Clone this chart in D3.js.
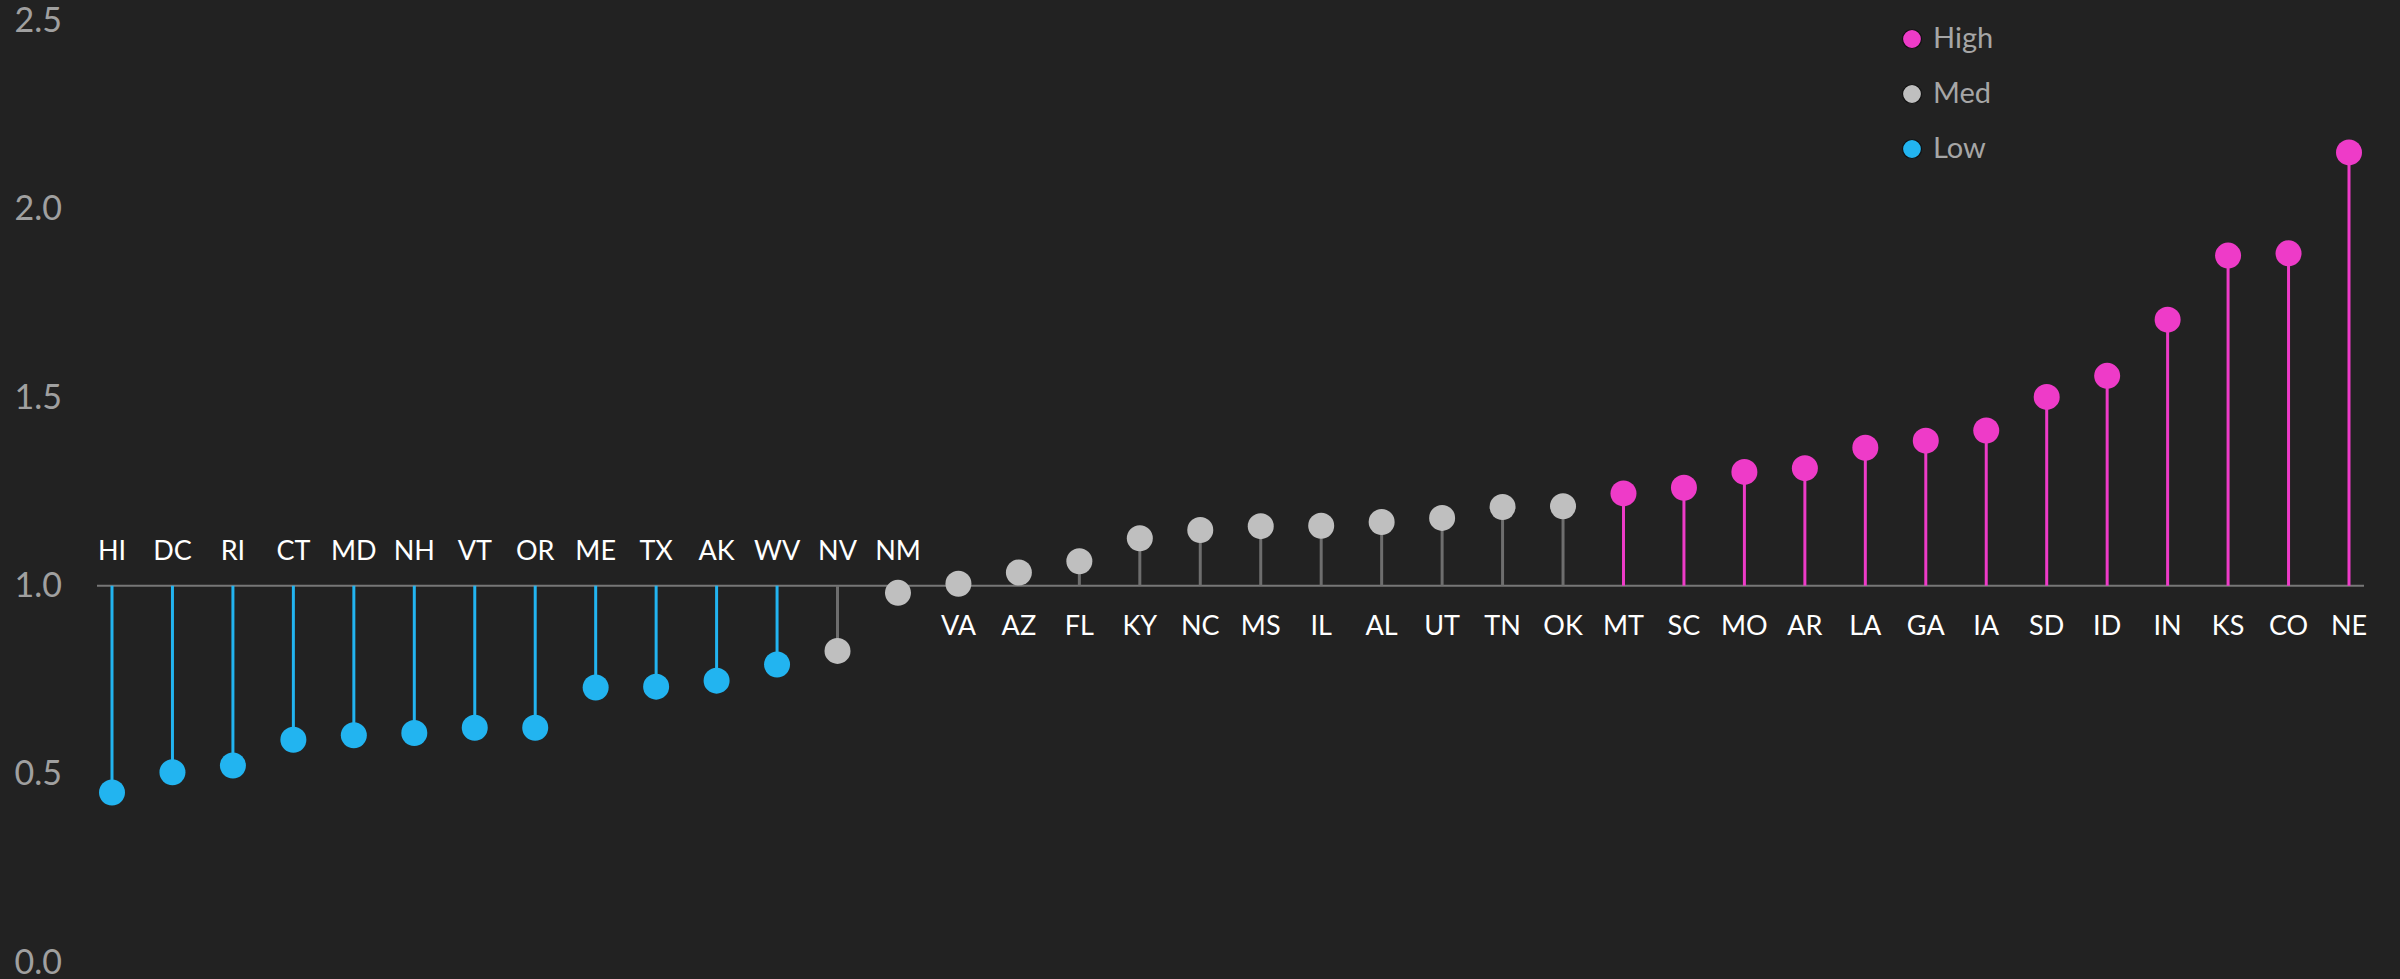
<!DOCTYPE html>
<html>
<head>
<meta charset="utf-8">
<script src="https://cdn.jsdelivr.net/npm/d3@7"></script>
<style>
  html, body { margin: 0; padding: 0; background: #222222; }
  svg { display: block; }
</style>
</head>
<body>
<svg id="chart" width="2400" height="979"></svg>
<script>
// States, ordered from lowest to highest ratio
const states = ["HI","DC","RI","CT","MD","NH","VT","OR","ME","TX","AK","WV","NV","NM",
  "VA","AZ","FL","KY","NC","MS","IL","AL","UT","TN","OK",
  "MT","SC","MO","AR","LA","GA","IA","SD","ID","IN","KS","CO","NE"];
const values = [0.451,0.505,0.523,0.591,0.603,0.609,0.623,0.623,0.730,0.732,0.748,0.791,0.827,0.981,
  1.005,1.035,1.065,1.126,1.148,1.158,1.159,1.169,1.180,1.209,1.211,
  1.245,1.260,1.302,1.312,1.366,1.385,1.412,1.501,1.557,1.706,1.876,1.882,2.150];
const levels = ["Low","Low","Low","Low","Low","Low","Low","Low","Low","Low","Low","Low","Med","Med",
  "Med","Med","Med","Med","Med","Med","Med","Med","Med","Med","Med",
  "High","High","High","High","High","High","High","High","High","High","High","High","High"];
const legendOrder = ["High","Med","Low"];
const yTicks = [0, 0.5, 1.0, 1.5, 2.0, 2.5];
const baselineValue = 1.0;

const dotColor = { High: "#ee3bc8", Med: "#bfbfbf", Low: "#22b4f0" };
const stemColor = { High: "#ee3bc8", Med: "#6e6e6e", Low: "#22b4f0" };

const rows = states.map((s, i) => ({ state: s, value: values[i], level: levels[i] }));

const svg = d3.select("#chart");
const font = "Lato, 'Open Sans', sans-serif";

const x = d3.scalePoint().domain(states).range([112, 2349]);
const y = d3.scaleLinear().domain([0, 2.5]).range([962.5, 20.5]);
const y0 = y(baselineValue);

// value axis: labels only
const yAxis = svg.append("g")
  .attr("transform", "translate(62,0)")
  .call(d3.axisLeft(y).tickValues(yTicks).tickSize(0).tickPadding(0).tickFormat(d3.format(".1f")));
yAxis.select(".domain").remove();
yAxis.selectAll("text")
  .attr("fill", "#a0a0a0")
  .style("font-family", font)
  .style("font-size", "34px");

// reference line at 1.0
svg.append("line")
  .attr("x1", x(states[0]) - 15).attr("x2", x(states[states.length - 1]) + 15)
  .attr("y1", y0).attr("y2", y0)
  .attr("stroke", "#777777").attr("stroke-width", 2);

// stems
svg.append("g").selectAll("line").data(rows).join("line")
  .attr("x1", d => x(d.state)).attr("x2", d => x(d.state))
  .attr("y1", y0).attr("y2", d => y(d.value))
  .attr("stroke", d => stemColor[d.level])
  .attr("stroke-width", 3);

// dots
svg.append("g").selectAll("circle").data(rows).join("circle")
  .attr("cx", d => x(d.state)).attr("cy", d => y(d.value))
  .attr("r", 13)
  .attr("fill", d => dotColor[d.level]);

// state labels: above the line for values under 1, below otherwise
svg.append("g").selectAll("text").data(rows).join("text")
  .attr("x", d => x(d.state))
  .attr("y", d => d.value < baselineValue ? y0 - 36 : y0 + 39)
  .attr("text-anchor", "middle")
  .attr("dominant-baseline", "central")
  .attr("fill", "#ffffff")
  .style("font-family", font)
  .style("font-size", "27px")
  .text(d => d.state);

// legend
const legend = svg.append("g").selectAll("g").data(legendOrder).join("g")
  .attr("transform", (d, i) => `translate(1912,${39 + i * 55})`);
legend.append("circle")
  .attr("r", 9.5)
  .attr("fill", d => dotColor[d])
  .attr("stroke", "#111111").attr("stroke-width", 1.2);
legend.append("text")
  .attr("x", 21).attr("y", -3)
  .attr("dominant-baseline", "central")
  .attr("fill", "#a6a6a6")
  .style("font-family", font)
  .style("font-size", "29px")
  .text(d => d);
</script>
</body>
</html>
